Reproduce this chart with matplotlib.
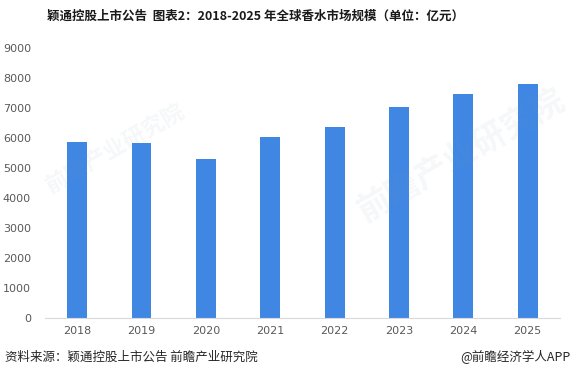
import matplotlib
matplotlib.use('Agg')
import matplotlib.pyplot as plt

plt.rcParams['font.family'] = ['Noto Sans CJK SC', 'DejaVu Sans']

# data
years = ['2018', '2019', '2020', '2021', '2022', '2023', '2024', '2025']
market_size = [5870, 5830, 5300, 6040, 6370, 7030, 7470, 7800]
yticks = [0, 1000, 2000, 3000, 4000, 5000, 6000, 7000, 8000, 9000]

fig = plt.figure(figsize=(5.76, 3.71), dpi=100)
ax = fig.add_axes([0.078, 0.143, 0.894, 0.728])

ax.bar(range(len(years)), market_size, width=0.31, color='#4087e4', zorder=2)

ax.set_xlim(-0.5, len(years) - 0.5)
ax.set_ylim(0, 9000)
ax.set_xticks(range(len(years)))
ax.set_xticklabels(years)
ax.set_yticks(yticks)
ax.tick_params(axis='both', length=0, labelsize=8, colors='#595959')
ax.tick_params(axis='x', pad=6)
ax.tick_params(axis='y', pad=10)
for lbl in ax.get_xticklabels() + ax.get_yticklabels():
    lbl.set_family(['DejaVu Sans'])

for side in ['top', 'right', 'left']:
    ax.spines[side].set_visible(False)
ax.spines['bottom'].set_color('#d9d9d9')
ax.spines['bottom'].set_linewidth(0.8)

# faint watermark
fig.text(0.2, 0.6, '前瞻产业研究院', fontsize=16, color='#7f8fa6', alpha=0.07, rotation=30,
         ha='center', va='center', fontweight='bold')
fig.text(0.8, 0.58, '前瞻产业研究院', fontsize=24, color='#7f8fa6', alpha=0.07, rotation=30,
         ha='center', va='center', fontweight='bold')

fig.text(0.443, 0.957, '颖通控股上市公告  图表2：2018-2025 年全球香水市场规模（单位：亿元）',
         ha='center', va='center', fontsize=9, fontweight='bold', color='#1a1a1a')
fig.text(0.008, 0.038, '资料来源：颖通控股上市公告 前瞻产业研究院',
         ha='left', va='center', fontsize=9, color='#262626')
fig.text(0.99, 0.038, '@前瞻经济学人APP',
         ha='right', va='center', fontsize=9, color='#262626')

fig.savefig('out.png', dpi=100)
